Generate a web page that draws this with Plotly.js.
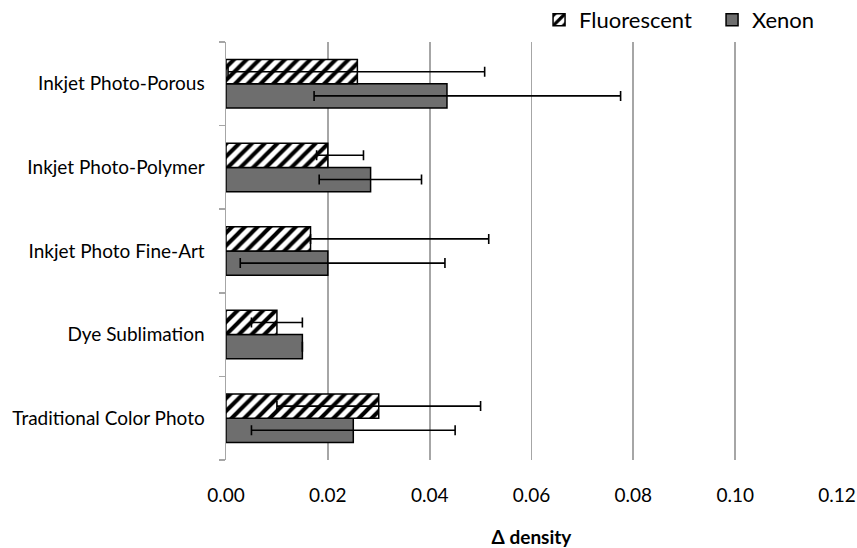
<!DOCTYPE html>
<html>
<head>
<meta charset="utf-8">
<script src="https://cdn.plot.ly/plotly-3.0.1.min.js"></script>
<style>html,body{margin:0;padding:0;background:#fff;}#chart{width:857px;height:548px;}</style>
</head>
<body>
<div id="chart"></div>
<script>
var categories = ["Traditional Color Photo", "Dye Sublimation", "Inkjet Photo Fine-Art", "Inkjet Photo-Polymer", "Inkjet Photo-Porous"];
var fluorescent = [0.030, 0.010, 0.0166, 0.020, 0.0258];
var fluorescentPlus = [0.020, 0.005, 0.035, 0.007, 0.025];
var fluorescentMinus = [0.020, 0.005, 0.0, 0.0022, 0.0254];
var xenon = [0.025, 0.015, 0.020, 0.0284, 0.0434];
var xenonPlus = [0.020, 0.0, 0.023, 0.010, 0.0341];
var xenonMinus = [0.020, 0.0, 0.0172, 0.0101, 0.0261];
var xTicks = [0, 0.02, 0.04, 0.06, 0.08, 0.10, 0.12];
var xTickLabels = ["0.00", "0.02", "0.04", "0.06", "0.08", "0.10", "0.12"];

var font = "Lato, 'Open Sans', sans-serif";
var errStyle = {type: 'data', symmetric: false, color: '#000', thickness: 1.6, width: 5};

var traces = [
  {
    type: 'bar', orientation: 'h', name: 'Xenon', legendrank: 2,
    y: categories, x: xenon,
    marker: {color: '#6e6e6e', line: {color: '#000', width: 1.5}},
    error_x: Object.assign({array: xenonPlus, arrayminus: xenonMinus}, errStyle)
  },
  {
    type: 'bar', orientation: 'h', name: 'Fluorescent', legendrank: 1,
    y: categories, x: fluorescent,
    marker: {color: '#fff', line: {color: '#000', width: 1.5},
      pattern: {shape: '/', fgcolor: '#000', bgcolor: '#fff', size: 9, solidity: 0.45}},
    error_x: Object.assign({array: fluorescentPlus, arrayminus: fluorescentMinus}, errStyle)
  }
];

var layout = {
  width: 857, height: 548,
  margin: {l: 226, r: 20, t: 42, b: 88},
  paper_bgcolor: '#fff', plot_bgcolor: '#fff',
  font: {family: font, size: 19, color: '#000'},
  barmode: 'group', bargap: 0.42, bargroupgap: 0,
  showlegend: true,
  legend: {orientation: 'h', xref: 'container', yref: 'container',
    x: 0.629, xanchor: 'left', y: 0.9635, yanchor: 'middle',
    font: {family: font, size: 22}, traceorder: 'normal', itemwidth: 30, entrywidth: 128},
  xaxis: {
    range: [0, 0.12], tickvals: xTicks, ticktext: xTickLabels,
    showgrid: true, gridcolor: '#a6a6a6', gridwidth: 1.8,
    zeroline: false, showline: false, ticks: '',
    tickfont: {family: font, size: 19}, ticklabelstandoff: 22,
    title: {text: '<b>Δ density</b>', font: {family: font, size: 19}, standoff: 26}
  },
  yaxis: {
    type: 'category', showgrid: false, zeroline: false,
    showline: true, linecolor: '#a6a6a6', linewidth: 1.5,
    ticks: 'outside', tickson: 'boundaries', ticklen: 6, tickcolor: '#a6a6a6', tickwidth: 1.5,
    tickfont: {family: font, size: 19}, ticklabelstandoff: 16
  }
};

Plotly.newPlot('chart', traces, layout, {displayModeBar: false, staticPlot: true});
</script>
</body>
</html>
